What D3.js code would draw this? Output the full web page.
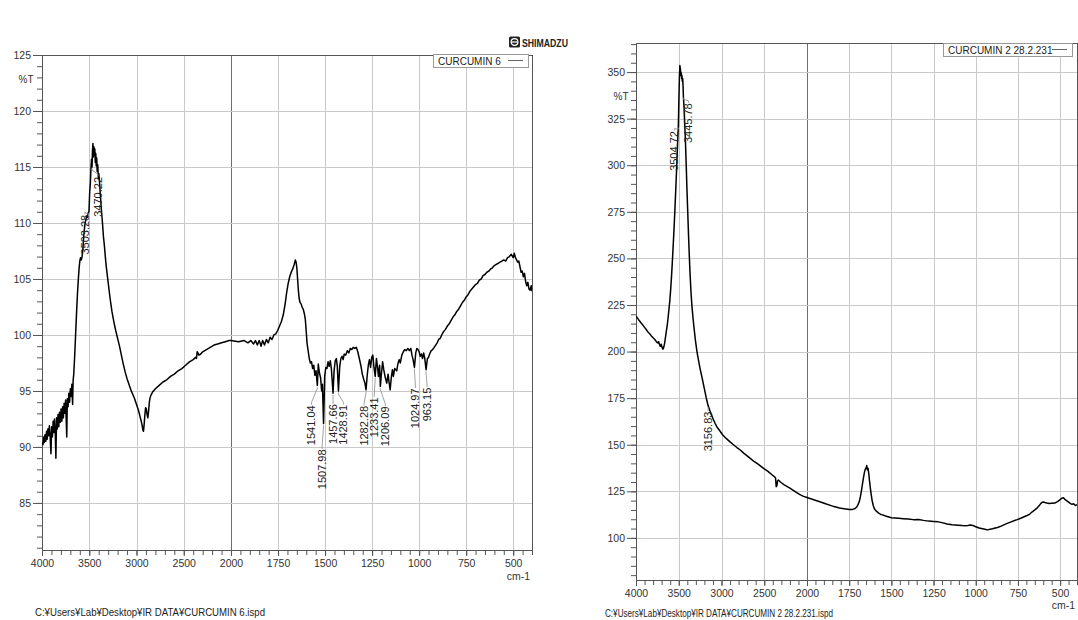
<!DOCTYPE html>
<html><head><meta charset="utf-8">
<script src="https://cdn.jsdelivr.net/npm/d3@7/dist/d3.min.js"></script>
<style>
html,body{margin:0;padding:0;background:#fff;}
svg{display:block;}
text{font-family:"Liberation Sans",Arial,Helvetica,sans-serif;}
</style></head><body>
<svg id="chart" width="1078" height="620"></svg>
<script>
// ---------------- DATA ----------------
const xTickValues = [4000,3500,3000,2500,2000,1750,1500,1250,1000,750,500];
const leftYTicks  = [85,90,95,100,105,110,115,120,125];
const rightYTicks = [100,125,150,175,200,225,250,275,300,325,350];
const leftSeriesName  = "CURCUMIN 6";
const rightSeriesName = "CURCUMIN 2 28.2.231";
const leftFileName  = "C:¥Users¥Lab¥Desktop¥IR DATA¥CURCUMIN 6.ispd";
const rightFileName = "C:¥Users¥Lab¥Desktop¥IR DATA¥CURCUMIN 2 28.2.231.ispd";
const brandName = "SHIMADZU";
const yAxisTitle = "%T";
const xAxisTitle = "cm-1";

// [wavenumber cm-1, %T]
const leftSpectrum = [
[4000,90.4],[3990,90.2],[3982,90.9],[3975,90.4],[3968,91.1],[3960,90.5],[3952,91.4],[3945,90.7],[3938,91.6],[3930,91.0],
[3922,91.9],[3915,91.1],[3905,89.4],[3898,91.8],[3890,90.9],[3882,92.3],[3875,91.3],[3868,92.5],[3860,91.4],[3853,89.0],
[3846,92.6],[3838,91.6],[3830,92.9],[3822,91.8],[3815,93.1],[3806,92.2],[3798,93.4],[3790,92.3],[3782,93.6],[3774,92.6],
[3766,93.9],[3758,93.0],[3750,94.2],[3742,92.0],[3738,90.9],[3732,94.3],[3724,93.6],[3716,94.8],[3708,94.0],[3700,95.2],
[3692,94.5],[3684,95.6],[3676,93.8],[3671,95.9],[3664,96.5],[3656,97.8],[3648,99.3],[3640,100.9],[3632,102.4],[3624,103.8],
[3616,104.9],[3608,105.9],[3600,106.6],[3592,106.9],[3584,106.7],[3576,107.0],[3568,107.6],[3560,108.6],[3552,109.4],[3544,110.0],
[3536,110.3],[3528,110.6],[3520,110.5],[3512,110.9],[3503.28,111.0],[3495,112.8],[3488,113.6],[3482,114.9],[3476,115.7],[3470.22,115.0],
[3466,116.4],[3461,117.1],[3456,115.9],[3451,116.8],[3446,116.1],[3441,116.6],[3436,115.4],[3431,116.2],[3426,115.1],[3421,115.8],
[3416,114.6],[3410,115.2],[3404,114.0],[3398,114.4],[3390,113.5],[3380,112.2],[3370,111.0],[3360,110.0],[3350,108.8],[3340,108.0],
[3330,107.0],[3320,106.1],[3300,104.7],[3280,103.3],[3260,102.1],[3240,101.2],[3220,100.4],[3200,99.7],[3180,99.0],[3160,98.2],
[3140,97.4],[3120,96.7],[3100,96.1],[3080,95.6],[3060,95.1],[3040,94.7],[3020,94.3],[3000,93.8],[2980,93.3],[2965,92.8],
[2950,92.3],[2940,91.9],[2932,91.5],[2926,91.4],[2920,91.9],[2912,92.8],[2904,93.5],[2896,93.4],[2888,92.9],[2880,92.6],
[2872,93.2],[2864,94.0],[2856,94.4],[2848,94.6],[2830,94.9],[2800,95.2],[2760,95.5],[2720,95.8],[2680,96.0],[2640,96.3],
[2600,96.5],[2560,96.8],[2520,97.0],[2480,97.3],[2440,97.6],[2400,97.8],[2375,98.0],[2365,97.9],[2358,98.5],[2350,98.4],
[2340,98.2],[2320,98.3],[2300,98.5],[2260,98.7],[2220,98.9],[2180,99.1],[2140,99.2],[2100,99.3],[2060,99.4],[2020,99.5],
[2000,99.5],[1960,99.4],[1930,99.5],[1910,99.3],[1895,99.5],[1880,99.2],[1870,99.5],[1860,99.1],[1850,99.5],[1840,99.0],
[1832,99.5],[1822,99.1],[1812,99.6],[1802,99.3],[1792,99.8],[1782,99.6],[1772,100.0],[1762,100.1],[1752,100.4],[1742,100.8],
[1732,101.2],[1722,101.8],[1712,102.8],[1704,103.8],[1696,104.6],[1688,105.2],[1680,105.6],[1672,105.9],[1664,106.3],[1658,106.7],
[1654,106.5],[1650,106.0],[1646,105.0],[1642,104.0],[1638,103.3],[1633,102.9],[1628,102.8],[1622,102.5],[1616,102.3],[1610,101.9],
[1605,101.4],[1600,100.3],[1596,99.3],[1590,98.6],[1584,97.9],[1578,97.5],[1572,97.6],[1566,97.0],[1560,97.3],[1554,96.4],
[1548,96.8],[1541.04,95.5],[1536,97.4],[1530,96.6],[1524,96.2],[1518,95.0],[1514,95.6],[1507.98,92.1],[1502,96.3],[1496,97.1],
[1490,97.0],[1484,97.6],[1478,97.2],[1472,97.7],[1466,96.9],[1457.66,94.8],[1452,96.8],[1446,97.7],[1440,97.9],[1435,97.2],
[1428.91,95.0],[1422,97.2],[1416,97.9],[1410,98.1],[1404,97.8],[1398,98.3],[1390,98.2],[1382,98.6],[1374,98.4],[1366,98.8],
[1358,98.7],[1350,98.9],[1342,98.8],[1334,98.9],[1326,98.5],[1318,97.9],[1310,97.3],[1302,96.5],[1294,96.0],[1288,95.7],
[1282.28,95.1],[1276,96.4],[1270,97.3],[1264,97.8],[1258,97.1],[1252,98.0],[1246,98.2],[1240,97.1],[1233.41,96.3],[1227,97.9],
[1221,97.1],[1216,96.3],[1210,97.3],[1206.09,95.4],[1200,96.6],[1194,97.6],[1188,96.9],[1180,96.2],[1172,95.7],[1165,96.5],
[1160,95.8],[1154,95.1],[1148,96.2],[1142,96.9],[1137,96.3],[1130,97.0],[1124,96.9],[1119,96.8],[1112,97.5],[1106,97.8],
[1100,97.5],[1092,98.2],[1084,98.5],[1076,98.7],[1068,98.6],[1060,98.8],[1052,98.6],[1044,98.8],[1038,98.2],[1032,97.8],
[1024.97,97.1],[1018,98.4],[1012,98.8],[1006,98.7],[1000,98.5],[994,98.1],[988,98.3],[982,97.9],[976,98.4],[970,97.9],
[963.15,96.9],[956,97.9],[950,98.0],[944,98.3],[936,98.6],[928,98.7],[920,98.9],[912,99.1],[904,99.3],[896,99.6],
[888,99.7],[880,100.0],[870,100.3],[860,100.5],[850,100.8],[840,101.0],[830,101.3],[820,101.6],[810,101.8],[800,102.1],
[790,102.3],[780,102.6],[770,102.9],[760,103.1],[750,103.4],[740,103.6],[730,103.9],[720,104.1],[710,104.3],[700,104.5],
[690,104.6],[680,104.9],[670,105.0],[660,105.3],[650,105.4],[640,105.6],[630,105.7],[620,105.9],[610,106.0],[600,106.2],
[590,106.3],[580,106.4],[570,106.5],[560,106.6],[550,106.7],[540,106.6],[530,106.9],[520,107.0],[510,107.2],[500,106.9],
[494,107.3],[488,106.9],[482,106.7],[476,106.5],[470,106.6],[464,106.1],[458,105.6],[452,105.7],[446,105.2],[440,105.5],
[434,104.8],[428,104.4],[422,104.7],[416,104.1],[410,104.0],[404,104.4],[400,103.9]
];

const rightSpectrum = [
[4000,219.0],[3980,217.8],[3960,216.5],[3940,215.3],[3920,214.2],[3900,213.0],[3880,211.8],[3860,210.5],[3840,209.6],[3820,208.4],
[3800,207.4],[3780,206.5],[3760,205.2],[3745,204.6],[3735,205.3],[3725,203.8],[3715,202.8],[3705,203.9],[3695,202.2],[3685,201.3],
[3675,202.4],[3665,204.5],[3655,207.8],[3645,211.0],[3635,214.0],[3625,218.0],[3615,222.5],[3605,227.0],[3595,233.0],[3585,240.0],
[3575,248.0],[3565,257.0],[3555,266.0],[3545,276.0],[3535,287.0],[3525,298.0],[3515,310.0],[3504.72,321.0],[3498,336.0],[3492,348.0],
[3487,353.5],[3482,352.0],[3478,350.5],[3474,348.0],[3470,349.5],[3466,346.5],[3462,348.0],[3458,345.0],[3454,346.5],[3450,343.0],
[3445.78,337.0],[3438,331.0],[3430,322.0],[3421,312.0],[3412,299.0],[3404,287.0],[3395,275.0],[3386,263.0],[3377,252.0],[3368,242.0],
[3357,232.0],[3345,224.0],[3333,218.0],[3322,213.0],[3305,206.0],[3287,200.0],[3270,195.5],[3251,191.0],[3230,186.5],[3205,181.0],
[3180,175.5],[3156.83,171.0],[3130,167.5],[3100,164.0],[3075,161.5],[3053,159.5],[3020,157.5],[2990,155.5],[2960,154.0],[2936,153.0],
[2900,151.5],[2860,150.0],[2820,148.5],[2784,147.3],[2740,145.5],[2700,144.0],[2667,142.8],[2620,141.0],[2580,139.8],[2550,138.8],
[2500,137.0],[2460,135.8],[2433,134.8],[2400,133.5],[2380,132.8],[2368,132.2],[2360,127.5],[2352,128.0],[2345,130.5],[2335,131.0],
[2320,130.4],[2300,129.6],[2270,128.6],[2240,127.8],[2200,126.7],[2160,125.5],[2120,124.3],[2082,123.2],[2040,122.3],[2000,121.7],
[1960,120.5],[1924,119.4],[1890,118.3],[1865,117.6],[1840,116.8],[1807,116.0],[1780,115.6],[1749,115.2],[1730,115.3],[1715,115.8],
[1705,116.6],[1697,118.0],[1690,119.5],[1684,122.0],[1678,125.0],[1672,128.5],[1666,132.0],[1660,135.0],[1655,136.8],[1650,137.5],
[1646,138.8],[1642,136.5],[1638,137.3],[1634,134.5],[1630,131.0],[1625,127.0],[1620,123.5],[1614,120.0],[1608,117.5],[1600,115.5],
[1591,114.5],[1582,113.8],[1573,113.2],[1560,112.5],[1544,112.1],[1530,111.6],[1515,111.2],[1500,110.8],[1480,110.7],[1456,110.5],
[1430,110.3],[1400,110.1],[1370,109.8],[1339,109.9],[1310,109.4],[1280,109.0],[1250,108.8],[1222,108.6],[1200,108.2],[1170,107.5],
[1140,107.0],[1105,106.8],[1080,106.6],[1060,106.5],[1047,106.6],[1030,106.9],[1018,106.7],[1000,106.0],[980,105.3],[959,104.9],
[940,104.5],[930,104.3],[915,104.6],[900,104.9],[885,105.3],[871,105.6],[850,106.3],[830,107.1],[810,107.9],[790,108.6],
[770,109.3],[754,109.8],[730,110.7],[710,111.5],[696,112.0],[680,112.8],[665,114.0],[650,115.0],[637,116.0],[625,117.2],
[615,118.4],[608,119.0],[600,119.3],[590,119.0],[579,118.7],[565,118.5],[550,118.6],[532,118.7],[515,119.5],[500,120.5],
[491,121.3],[480,121.5],[470,120.5],[462,120.0],[450,119.2],[440,118.5],[430,118.0],[420,118.3],[410,117.4],[400,117.8]
];

// labelled peaks [wavenumber, %T]
const leftPeaks = [[3503.28,111.0],[3470.22,115.0],[1541.04,95.5],[1507.98,92.1],[1457.66,94.8],[1428.91,95.0],
                   [1282.28,95.1],[1233.41,96.3],[1206.09,95.4],[1024.97,97.1],[963.15,96.9]];
const rightPeaks = [[3504.72,321.0],[3445.78,337.0],[3156.83,171.0]];

// ---------------- LAYOUT (positions / styles) ----------------
const leftLayout = {
  id:"L", left:42, mid:231, right:532, top:55, bottom:550, yDomain:[80.8,125],
  yTicks:leftYTicks, yMinorStep:1, series:leftSpectrum, peaks:leftPeaks,
  peakDx:[-4,6,-6,-1.5,0,5,-2,-1,5,1,1], peakGap:[3,10,20,26,11,14,16,21,20,21,18],
  legend:{x:433,y:54,w:95,name:leftSeriesName}, titleY:83, titleX:26,
  file:leftFileName, fileX:35, fileY:616, fileLen:230, xLabelGap:30
};
const rightLayout = {
  id:"R", left:636, mid:807, right:1077, top:43, bottom:580, yDomain:[77.4,365.6],
  yTicks:rightYTicks, yMinorStep:5, series:rightSpectrum, peaks:rightPeaks,
  peakDx:[-4,5,0], peakGap:[5,7,6],
  legend:{x:943,y:43,w:129,name:rightSeriesName}, titleY:100, titleX:621,
  file:rightFileName, fileX:605, fileY:617, fileLen:228, xLabelGap:29
};

// ---------------- DRAW ----------------
const svg = d3.select("#chart");
svg.append("rect").attr("width",1078).attr("height",620).attr("fill","#fff");

// brand logo
const logo = svg.append("g").attr("transform","translate(509,42)");
logo.append("rect").attr("x",0).attr("y",-5.5).attr("width",11).attr("height",11).attr("rx",1.5).attr("fill","#222");
logo.append("circle").attr("cx",5.5).attr("cy",0).attr("r",3.4).attr("fill","none").attr("stroke","#fff").attr("stroke-width",1.2);
logo.append("line").attr("x1",2).attr("x2",9).attr("y1",0).attr("y2",0).attr("stroke","#fff").attr("stroke-width",1.2);
logo.append("text").attr("x",13).attr("y",4.5).attr("font-size",11.5).attr("font-weight","bold")
  .attr("fill","#222").attr("textLength",46).attr("lengthAdjust","spacingAndGlyphs").text(brandName);

function drawChart(c){
  const x = d3.scaleLinear().domain([4000,2000,400]).range([c.left,c.mid,c.right]);
  const y = d3.scaleLinear().domain(c.yDomain).range([c.bottom,c.top]);
  const g = svg.append("g");
  const crisp = v => Math.round(v)+0.5;

  g.append("clipPath").attr("id","clip"+c.id).append("rect")
    .attr("x",c.left).attr("y",c.top).attr("width",c.right-c.left).attr("height",c.bottom-c.top);

  // vertical grid
  g.append("g").selectAll("line").data(xTickValues.filter(v=>v<4000)).join("line")
    .attr("x1",d=>crisp(x(d))).attr("x2",d=>crisp(x(d)))
    .attr("y1",c.top).attr("y2",c.bottom)
    .attr("stroke",d=>d===2000?"#6e6e6e":"#c9c9c9").attr("stroke-width",1);
  // horizontal grid
  g.append("g").selectAll("line").data(c.yTicks.filter(v=>v>c.yDomain[0] && v<c.yDomain[1]-0.01)).join("line")
    .attr("x1",c.left).attr("x2",c.right)
    .attr("y1",d=>crisp(y(d))).attr("y2",d=>crisp(y(d)))
    .attr("stroke","#c9c9c9").attr("stroke-width",1);

  // frame
  g.append("rect").attr("x",crisp(c.left)).attr("y",crisp(c.top))
    .attr("width",Math.round(c.right)-Math.round(c.left)).attr("height",Math.round(c.bottom)-Math.round(c.top))
    .attr("fill","none").attr("stroke","#555").attr("stroke-width",1);

  // y axis minor & major
  const yMinor = d3.range(Math.ceil(c.yDomain[0]/c.yMinorStep)*c.yMinorStep, c.yDomain[1]+0.001, c.yMinorStep);
  const ayMinor = g.append("g").attr("transform",`translate(${Math.round(c.left)},0)`)
    .call(d3.axisLeft(y).tickValues(yMinor).tickSize(5).tickFormat(""));
  const ay = g.append("g").attr("transform",`translate(${Math.round(c.left)},0)`)
    .call(d3.axisLeft(y).tickValues(c.yTicks).tickSize(9).tickPadding(2).tickFormat(d3.format("d")));
  // x axis minor & major
  const xMinor = d3.range(4000,2000,-100).concat(d3.range(2000,399,-50));
  const axMinor = g.append("g").attr("transform",`translate(0,${Math.round(c.bottom)})`)
    .call(d3.axisBottom(x).tickValues(xMinor).tickSize(5).tickFormat(""));
  const ax = g.append("g").attr("transform",`translate(0,${Math.round(c.bottom)})`)
    .call(d3.axisBottom(x).tickValues(xTickValues).tickSize(6).tickPadding(4).tickFormat(d3.format("d")));
  [ayMinor,ay,axMinor,ax].forEach(a=>{
    a.select(".domain").remove();
    a.selectAll(".tick line").attr("stroke","#555");
    a.selectAll(".tick text").attr("fill","#333").attr("font-size",10.5)
      .attr("font-family",'"Liberation Sans",Arial,sans-serif');
  });

  // axis titles
  g.append("text").attr("x",c.titleX).attr("y",c.titleY).attr("text-anchor","middle")
    .attr("font-size",10).attr("fill","#333").text(yAxisTitle);
  g.append("text").attr("x",c.right-2).attr("y",Math.round(c.bottom)+c.xLabelGap).attr("text-anchor","end")
    .attr("font-size",10.5).attr("fill","#333").text(xAxisTitle);

  // spectrum
  const line = d3.line().x(d=>x(d[0])).y(d=>y(d[1]));
  g.append("path").datum(c.series).attr("clip-path",`url(#clip${c.id})`)
    .attr("d",line).attr("fill","none").attr("stroke","#000").attr("stroke-width",1.5)
    .attr("stroke-linejoin","round");

  // peak labels
  c.peaks.forEach((p,i)=>{
    const px=x(p[0]), py=y(p[1]);
    const lx=px+c.peakDx[i], ly=py+c.peakGap[i];
    g.append("path").attr("d",`M${px},${py+1.5}L${px},${py+3}L${lx},${ly-2.5}L${lx},${ly-0.5}`)
      .attr("fill","none").attr("stroke","#8a8a8a").attr("stroke-width",0.8);
    g.append("text").attr("transform",`translate(${lx},${ly}) rotate(-90)`)
      .attr("text-anchor","end").attr("dy","0.35em").attr("font-size",11).attr("fill","#222")
      .text(p[0].toFixed(2));
  });

  // legend
  const L=c.legend;
  g.append("rect").attr("x",L.x+0.5).attr("y",L.y+0.5).attr("width",L.w).attr("height",13)
    .attr("fill","#fff").attr("stroke","#999").attr("stroke-width",1);
  g.append("text").attr("x",L.x+5).attr("y",L.y+10.5).attr("font-size",10).attr("fill","#222").text(L.name);
  g.append("line").attr("x1",L.x+L.w-20).attr("x2",L.x+L.w-5).attr("y1",L.y+6.5).attr("y2",L.y+6.5)
    .attr("stroke","#666").attr("stroke-width",1);

  // file path
  svg.append("text").attr("x",c.fileX).attr("y",c.fileY).attr("font-size",10).attr("fill","#222")
    .attr("textLength",c.fileLen).attr("lengthAdjust","spacingAndGlyphs").text(c.file);
}

drawChart(leftLayout);
drawChart(rightLayout);
</script>
</body></html>
